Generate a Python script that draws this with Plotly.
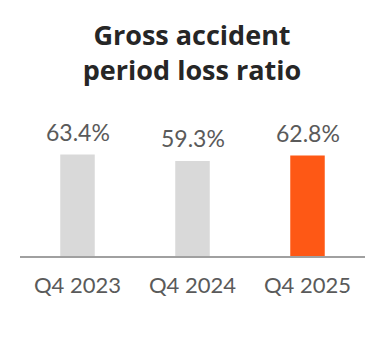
import plotly.graph_objects as go

# Gross accident period loss ratio by quarter (%)
quarters = ["Q4 2023", "Q4 2024", "Q4 2025"]
loss_ratio = [63.4, 59.3, 62.8]
bar_colors = ["#d9d9d9", "#d9d9d9", "#fe5815"]
value_labels = [f"{v:.1f}%" for v in loss_ratio]

fig = go.Figure(
    go.Bar(
        x=quarters,
        y=loss_ratio,
        marker=dict(color=bar_colors, line=dict(width=0)),
        width=0.3,
        hoverinfo="skip",
    )
)

# value labels floating above each bar
for q, v, lab in zip(quarters, loss_ratio, value_labels):
    fig.add_annotation(
        x=q, y=v, text=lab, showarrow=False,
        yanchor="middle", yshift=23,
        font=dict(family="Lato", size=23, color="#5a5a5a"),
    )

fig.update_layout(
    width=384, height=344,
    margin=dict(l=20, r=19, t=100, b=88),
    paper_bgcolor="white", plot_bgcolor="white",
    showlegend=False,
    title=dict(
        text="<b>Gross accident<br>period loss ratio</b>",
        x=0.5, xanchor="center", y=0.87, yanchor="middle",
        font=dict(family="Open Sans", size=27, color="#262626"),
    ),
    xaxis=dict(
        showline=True, linecolor="#a0a0a0", linewidth=2,
        showgrid=False, zeroline=False, ticks="",
        ticklabelstandoff=9,
        tickfont=dict(family="Lato", size=22, color="#5a5a5a"),
        fixedrange=True,
    ),
    yaxis=dict(
        range=[0, 97.5], visible=False, showgrid=False,
        zeroline=False, fixedrange=True,
    ),
)

fig.write_html("out.html", config={"displayModeBar": False})
